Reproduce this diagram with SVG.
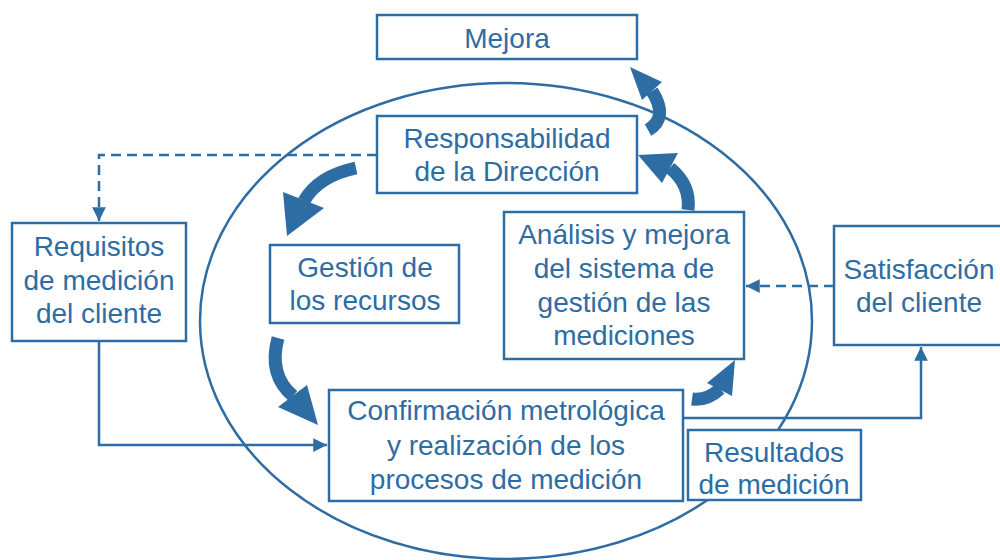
<svg xmlns="http://www.w3.org/2000/svg" width="1000" height="560" viewBox="0 0 1000 560">
<defs>
<style>
.box{fill:#fff;stroke:#2E6DA4;stroke-width:2.5}
.t{font-family:"Liberation Sans",Arial,sans-serif;font-size:28px;fill:#2E6DA4;text-anchor:middle}
.ln{fill:none;stroke:#2E6DA4;stroke-width:2.5}
.dash{stroke-dasharray:10 6}
.band{fill:none;stroke:#2E6DA4;stroke-width:13}
.head{fill:#2E6DA4}
</style>
<marker id="ah" viewBox="0 0 10 10" refX="10" refY="5" markerWidth="5.5" markerHeight="5.5" orient="auto" markerUnits="strokeWidth">
<path d="M0,0 L10,5 L0,10 z" fill="#2E6DA4"/>
</marker>
</defs>
<rect width="1000" height="560" fill="#fff"/>
<ellipse cx="506" cy="321" rx="306" ry="238" fill="none" stroke="#2E6DA4" stroke-width="2.5"/>
<g id="connectors">
<path class="ln dash" d="M377,155 H99 V221" marker-end="url(#ah)"/>
<path class="ln" d="M99,341 V445 H327" marker-end="url(#ah)"/>
<path class="ln" d="M683,418 H921 V347" marker-end="url(#ah)"/>
<path class="ln dash" d="M834,286 H746" marker-end="url(#ah)"/>
<path class="band" d="M356,168 Q318,176 304,201"/>
<polygon class="head" points="283,192 324,208 287,236"/>
<path class="band" d="M278,338 Q268,375 293,396"/>
<polygon class="head" points="278,407 307,385 318,425"/>
<path class="band" d="M692,399 Q707,401 720,389"/>
<polygon class="head" points="707,383 735,360 732,396"/>
<path class="band" d="M688,210 Q691,185 670,168"/>
<polygon class="head" points="638,155 678,153 662,183"/>
<path class="band" d="M648,130 Q669,118 652,91"/>
<polygon class="head" points="630,67 662,82 642,100"/>
</g>
<g id="mejora"><rect class="box" x="377" y="15" width="260" height="44"/><text class="t" x="507" y="48">Mejora</text></g>
<g id="responsabilidad"><rect class="box" x="377" y="116" width="260" height="77"/><text class="t" x="507" y="148">Responsabilidad</text><text class="t" x="507" y="181">de la Dirección</text></g>
<g id="requisitos"><rect class="box" x="12" y="223" width="174" height="118"/><text class="t" x="99" y="256">Requisitos</text><text class="t" x="99" y="290">de medición</text><text class="t" x="99" y="323">del cliente</text></g>
<g id="gestion"><rect class="box" x="270" y="245" width="189" height="78"/><text class="t" x="365" y="277">Gestión de</text><text class="t" x="365" y="310">los recursos</text></g>
<g id="analisis"><rect class="box" x="504" y="212" width="240" height="147"/><text class="t" x="624" y="244">Análisis y mejora</text><text class="t" x="624" y="278">del sistema de</text><text class="t" x="624" y="312">gestión de las</text><text class="t" x="624" y="345">mediciones</text></g>
<g id="confirmacion"><rect class="box" x="329" y="390" width="354" height="111"/><text class="t" x="506" y="420">Confirmación metrológica</text><text class="t" x="506" y="455">y realización de los</text><text class="t" x="506" y="489">procesos de medición</text></g>
<g id="resultados"><rect class="box" x="688" y="430" width="173" height="70"/><text class="t" x="774" y="462">Resultados</text><text class="t" x="774" y="494">de medición</text></g>
<g id="satisfaccion"><rect class="box" x="834" y="226" width="171" height="119"/><text class="t" x="919" y="279">Satisfacción</text><text class="t" x="919" y="312">del cliente</text></g>
</svg>
